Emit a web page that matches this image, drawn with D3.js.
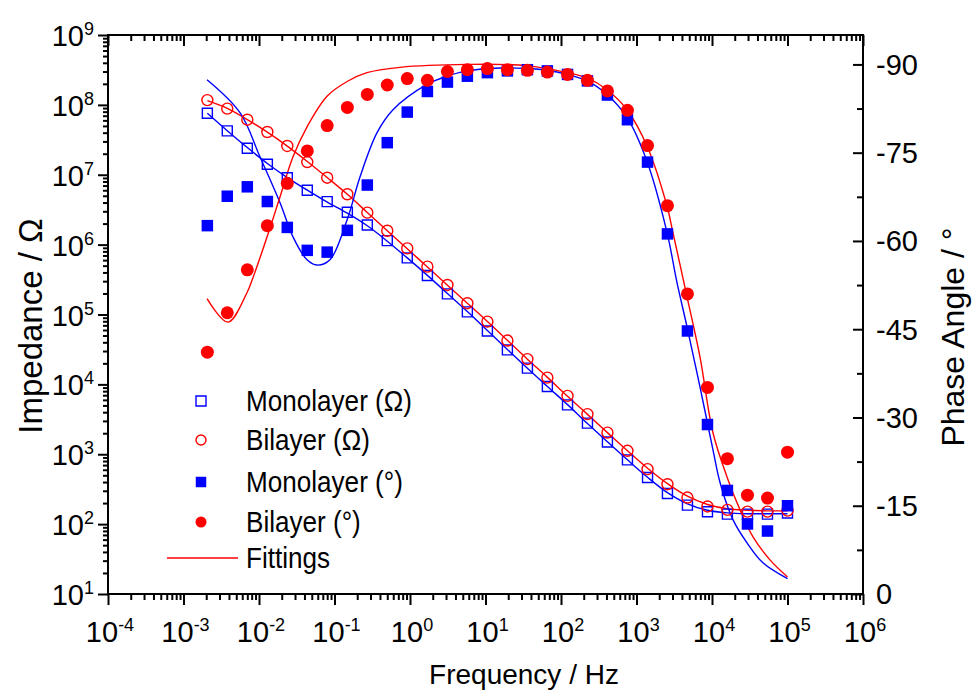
<!DOCTYPE html>
<html>
<head>
<meta charset="utf-8">
<script src="https://cdn.jsdelivr.net/npm/d3@7"></script>
<style>
  body { margin: 0; background: #fff; }
  svg text { font-family: "Liberation Sans", Arial, sans-serif; fill: #000; }
</style>
</head>
<body>
<svg id="chart" width="973" height="690"></svg>
<script>
// Measured frequencies (Hz)
var freq = [0.00207, 0.0038, 0.0070, 0.0129, 0.0237, 0.0436, 0.080, 0.148, 0.272, 0.50,
    0.92, 1.70, 3.13, 5.75, 10.6, 19.5, 35.9, 66.0, 122, 224,
    412, 759, 1400, 2570, 4730, 8710, 16000, 29500, 54300, 100000];

// Impedance (Ohm)
var monoZ = [7.59e7, 4.24e7, 2.39e7, 1.41e7, 9.08e6, 6.0e6, 4.12e6, 2.91e6, 1.91e6, 1.14e6,
    6.46e5, 3.61e5, 1.97e5, 1.09e5, 5.82e4, 3.12e4, 1.71e4, 9.31e3, 5.09e3, 2.79e3,
    1.50e3, 832, 465, 274, 187, 150, 139, 139, 139, 144];
var biZ = [1.17e8, 8.83e7, 6.14e7, 4.09e7, 2.58e7, 1.52e7, 9.08e6, 5.26e6, 2.87e6, 1.58e6,
    8.83e5, 4.84e5, 2.65e5, 1.45e5, 7.91e4, 4.24e4, 2.30e4, 1.25e4, 6.84e3, 3.75e3,
    2.04e3, 1.12e3, 612, 373, 240, 179, 160, 151, 151, 156];

// Phase angle (deg)
var monoPhase = [-62.6, -67.6, -69.2, -66.7, -62.3, -58.4, -58.1, -61.8, -69.5, -76.7,
    -81.9, -85.4, -87.0, -88.0, -88.6, -88.9, -89.1, -88.9, -88.3, -87.2,
    -84.8, -80.6, -73.4, -61.2, -44.7, -28.8, -17.6, -11.9, -10.7, -15.0];
var biPhase = [-41.1, -47.8, -55.1, -62.6, -69.8, -75.3, -79.6, -82.7, -84.9, -86.5,
    -87.6, -87.3, -88.8, -89.1, -89.3, -89.1, -89.0, -88.7, -88.3, -87.3,
    -85.5, -82.2, -76.2, -66.0, -51.0, -35.1, -23.0, -16.8, -16.3, -24.1];

// Fitted impedance (same frequencies)
var monoZFit = [7.59e7, 4.27e7, 2.45e7, 1.45e7, 9.12e6, 6.03e6, 4.07e6, 2.82e6, 1.86e6, 1.12e6,
    6.46e5, 3.63e5, 2.0e5, 1.10e5, 5.89e4, 3.16e4, 1.70e4, 9.33e3, 5.13e3, 2.75e3,
    1.51e3, 832, 468, 282, 195, 158, 145, 141, 141, 141];
var biZFit = [1.15e8, 8.91e7, 6.17e7, 4.07e7, 2.57e7, 1.55e7, 9.12e6, 5.25e6, 2.88e6, 1.58e6,
    8.71e5, 4.79e5, 2.63e5, 1.45e5, 7.94e4, 4.27e4, 2.29e4, 1.26e4, 6.76e3, 3.72e3,
    2.04e3, 1.12e3, 631, 380, 251, 191, 166, 158, 155, 155];

// Fitted phase
var monoFitFreq = [0.00205, 0.0056, 0.0103, 0.019, 0.0282, 0.0433, 0.0586, 0.0871, 0.147, 0.218,
    0.366, 0.596, 1.68, 3.09, 5.69, 15.6, 35.5, 65.3, 120, 221,
    406, 748, 1380, 2540, 3440, 4670, 6930, 10300, 12800, 19000, 29100, 47300, 100000];
var monoPhaseFit = [-87.4, -81.8, -74.3, -66.5, -60.7, -56.8, -55.9, -56.8, -63.6, -70.9,
    -78.4, -82.3, -86.6, -88.0, -88.9, -89.4, -89.3, -89.0, -88.3, -87.2,
    -84.9, -81.0, -73.5, -61.4, -52.9, -45.4, -35.2, -24.5, -18.9, -12.6, -8.7, -5.3, -2.6];
var biFitFreq = [0.00205, 0.00388, 0.00693, 0.00834, 0.0128, 0.019, 0.0282, 0.0433, 0.0796, 0.147,
    0.269, 0.738, 5.69, 35.5, 120, 221, 406, 748, 1380, 2540,
    3040, 4670, 6930, 10300, 15800, 23500, 34900, 58600, 100000];
var biPhaseFit = [-50.2, -46.2, -51.2, -53.8, -60.7, -67.5, -74.3, -79.4, -84.6, -87.1,
    -88.6, -89.5, -90.0, -89.8, -88.6, -87.7, -85.7, -82.3, -76.1, -65.9,
    -61.4, -50.5, -40.3, -27.4, -19.9, -14.3, -9.7, -5.8, -2.9];

// Tick values
var freqExp = [-4, -3, -2, -1, 0, 1, 2, 3, 4, 5, 6];
var zExp = [1, 2, 3, 4, 5, 6, 7, 8, 9];
var phaseTicks = [-90, -75, -60, -45, -30, -15, 0];

var blue = "#0000ff", red = "#ff0000";

// Plot box
var box = { left: 108, right: 863, top: 35, bottom: 594 };

var svg = d3.select("#chart");

var x = d3.scaleLog().domain([1e-4, 1e6]).range([box.left, box.right]);
var yZ = d3.scaleLog().domain([1e1, 1e9]).range([box.bottom, box.top]);
var yP = d3.scaleLinear().domain([0, -95]).range([box.bottom, box.top]);

// minor ticks for log scales
function minors(lo, hi) {
    var out = [];
    for (var e = lo; e < hi; e++)
        for (var m = 2; m <= 9; m++) out.push(m * Math.pow(10, e));
    return out;
}
var xMajor = freqExp.map(function (e) { return Math.pow(10, e); });
var yMajor = zExp.map(function (e) { return Math.pow(10, e); });

function styleAxis(g) {
    g.select(".domain").remove();
    g.selectAll("line").attr("stroke", "#000").attr("stroke-width", 2);
    g.selectAll("text").remove();
}

// Bottom axis (ticks out)
svg.append("g").attr("transform", "translate(0," + box.bottom + ")")
    .call(d3.axisBottom(x).tickValues(xMajor).tickSize(11)).call(styleAxis);
svg.append("g").attr("transform", "translate(0," + box.bottom + ")")
    .call(d3.axisBottom(x).tickValues(minors(-4, 6)).tickSize(6)).call(styleAxis);
// Top axis (ticks point down into plot)
svg.append("g").attr("transform", "translate(0," + box.top + ")")
    .call(d3.axisBottom(x).tickValues(xMajor).tickSize(11)).call(styleAxis);
svg.append("g").attr("transform", "translate(0," + box.top + ")")
    .call(d3.axisBottom(x).tickValues(minors(-4, 6)).tickSize(6)).call(styleAxis);
// Left axis (ticks out)
svg.append("g").attr("transform", "translate(" + box.left + ",0)")
    .call(d3.axisLeft(yZ).tickValues(yMajor).tickSize(10)).call(styleAxis);
svg.append("g").attr("transform", "translate(" + box.left + ",0)")
    .call(d3.axisLeft(yZ).tickValues(minors(1, 9)).tickSize(5)).call(styleAxis);
// Right axis (ticks in)
svg.append("g").attr("transform", "translate(" + box.right + ",0)")
    .call(d3.axisLeft(yP).tickValues(phaseTicks).tickSize(10)).call(styleAxis);
svg.append("g").attr("transform", "translate(" + box.right + ",0)")
    .call(d3.axisLeft(yP).tickValues(phaseTicks.slice(0, -1).map(function (d) { return d + 7.5; })).tickSize(6))
    .call(styleAxis);

// Frame
svg.append("rect")
    .attr("x", box.left).attr("y", box.top)
    .attr("width", box.right - box.left).attr("height", box.bottom - box.top)
    .attr("fill", "none").attr("stroke", "#000").attr("stroke-width", 2);

// Tick labels with superscripts
function powerLabel(sel, e) {
    sel.append("tspan").text("10");
    sel.append("tspan").attr("dy", -11).attr("font-size", 18).text(e);
}
freqExp.forEach(function (e) {
    svg.append("text")
        .attr("x", x(Math.pow(10, e)) + 2).attr("y", box.bottom + 48)
        .attr("text-anchor", "middle").attr("font-size", 29)
        .call(powerLabel, e);
});
zExp.forEach(function (e) {
    svg.append("text")
        .attr("x", box.left - 14).attr("y", yZ(Math.pow(10, e)) + 11)
        .attr("text-anchor", "end").attr("font-size", 29)
        .call(powerLabel, e);
});
phaseTicks.forEach(function (p) {
    svg.append("text")
        .attr("x", box.right + 13).attr("y", yP(p)).attr("dy", "0.36em")
        .attr("font-size", 29)
        .text(String(p));
});

// Axis titles
svg.append("text")
    .attr("transform", "translate(42,326) rotate(-90)")
    .attr("text-anchor", "middle").attr("font-size", 33)
    .text("Impedance / \u03A9");
svg.append("text")
    .attr("transform", "translate(964,337) rotate(-90)")
    .attr("text-anchor", "middle").attr("font-size", 32)
    .text("Phase Angle / \u00B0");
svg.append("text")
    .attr("x", 524).attr("y", 684)
    .attr("text-anchor", "middle").attr("font-size", 28)
    .text("Frequency / Hz");

// Fitting lines
var line = d3.line().curve(d3.curveCatmullRom.alpha(0.5));
function fitPath(xs, ys, yScale, color) {
    svg.append("path")
        .datum(xs.map(function (f, i) { return [x(f), yScale(ys[i])]; }))
        .attr("d", line)
        .attr("fill", "none").attr("stroke", color).attr("stroke-width", 1.4);
}
fitPath(freq, monoZFit, yZ, blue);
fitPath(freq, biZFit, yZ, red);
fitPath(monoFitFreq, monoPhaseFit, yP, blue);
fitPath(biFitFreq, biPhaseFit, yP, red);

// Markers
var sq = d3.symbol().type(d3.symbolSquare);
function squares(vals, yScale, size, filled) {
    svg.append("g").selectAll("path")
        .data(vals).enter().append("path")
        .attr("d", sq.size(size * size)())
        .attr("transform", function (d, i) { return "translate(" + x(freq[i]) + "," + yScale(d) + ")"; })
        .attr("fill", filled ? blue : "none")
        .attr("stroke", filled ? "none" : blue)
        .attr("stroke-width", 1.4);
}
function circles(vals, yScale, r, filled) {
    svg.append("g").selectAll("circle")
        .data(vals).enter().append("circle")
        .attr("cx", function (d, i) { return x(freq[i]); })
        .attr("cy", function (d) { return yScale(d); })
        .attr("r", r)
        .attr("fill", filled ? red : "none")
        .attr("stroke", filled ? "none" : red)
        .attr("stroke-width", 1.4);
}
squares(monoZ, yZ, 10, false);
circles(biZ, yZ, 5.5, false);
squares(monoPhase, yP, 11.5, true);
circles(biPhase, yP, 6.5, true);

// Legend
var legX = 201, legText = 246;
var legRows = [401, 440, 482, 522, 558];
var legLabels = ["Monolayer (\u03A9)", "Bilayer (\u03A9)", "Monolayer (\u00B0)", "Bilayer (\u00B0)", "Fittings"];
svg.append("path").attr("d", sq.size(100)())
    .attr("transform", "translate(" + legX + "," + legRows[0] + ")")
    .attr("fill", "none").attr("stroke", blue).attr("stroke-width", 1.4);
svg.append("circle").attr("cx", legX).attr("cy", legRows[1]).attr("r", 5)
    .attr("fill", "none").attr("stroke", red).attr("stroke-width", 1.4);
svg.append("path").attr("d", sq.size(110)())
    .attr("transform", "translate(" + legX + "," + legRows[2] + ")")
    .attr("fill", blue);
svg.append("circle").attr("cx", legX).attr("cy", legRows[3]).attr("r", 5.5)
    .attr("fill", red);
svg.append("line")
    .attr("x1", 167).attr("x2", 238).attr("y1", legRows[4]).attr("y2", legRows[4])
    .attr("stroke", red).attr("stroke-width", 1.4);
legLabels.forEach(function (t, i) {
    svg.append("text")
        .attr("transform", "translate(" + legText + "," + legRows[i] + ") scale(0.9,1)")
        .attr("dy", "0.36em")
        .attr("font-size", 29)
        .text(t);
});
</script>
</body>
</html>
